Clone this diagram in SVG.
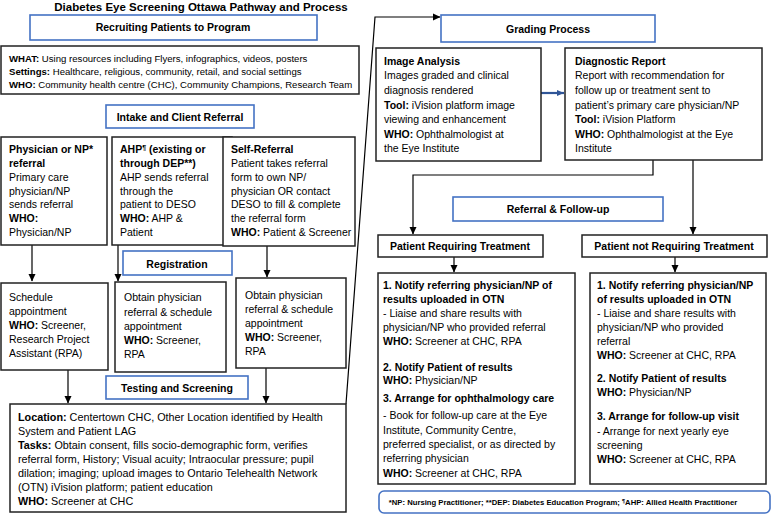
<svg xmlns="http://www.w3.org/2000/svg" width="772" height="515" viewBox="0 0 772 515">
<defs>
<marker id="ah" markerWidth="8" markerHeight="8" refX="7" refY="4" orient="auto" markerUnits="userSpaceOnUse"><path d="M0,0.5 L7.5,4 L0,7.5 z" fill="#000"/></marker>
<marker id="ahb" markerWidth="8" markerHeight="8" refX="7" refY="4" orient="auto" markerUnits="userSpaceOnUse"><path d="M0,1 L7,4 L0,7 z" fill="#2F5597"/></marker>
</defs>
<style>
text{font-family:"Liberation Sans",Arial,sans-serif;font-size:10.5px;fill:#000}
.b{font-weight:bold}
.c{text-anchor:middle}
.s{font-size:9.6px}
.m{font-size:10.8px}
.hdr{fill:#fff;stroke:#4472C4;stroke-width:1.6}
.box{fill:#fff;stroke:#222;stroke-width:1.5}
.ln{fill:none;stroke:#000;stroke-width:1.2}
</style>
<rect width="772" height="515" fill="#fff"/>
<text x="201" y="11" class="b c" style="font-size:11.5px">Diabetes Eye Screening Ottawa Pathway and Process</text>

<g id="connectors">
<path class="ln" d="M32,245 V281" marker-end="url(#ah)"/>
<path class="ln" d="M118,245 V281" marker-end="url(#ah)"/>
<path class="ln" d="M267,246 V277" marker-end="url(#ah)"/>
<path class="ln" d="M68,370 V403" marker-end="url(#ah)"/>
<path class="ln" d="M266,368 V403" marker-end="url(#ah)"/>
<path class="ln" d="M346,404 L375,17 H440" marker-end="url(#ah)"/>
<path d="M541,93 H564" stroke="#2F5597" stroke-width="2.2" fill="none" marker-end="url(#ahb)"/>
<path class="ln" d="M653,160 V175 H413 V234" marker-end="url(#ah)"/>
<path class="ln" d="M693,160 V234" marker-end="url(#ah)"/>
<path class="ln" d="M454,257 V272" marker-end="url(#ah)"/>
<path class="ln" d="M675,257 V272" marker-end="url(#ah)"/>
</g>

<g id="hdr-recruit"><rect class="hdr" x="30" y="15" width="287" height="25"/><text x="173" y="31" class="b c">Recruiting Patients to Program</text></g>
<g id="what"><rect class="box" x="1" y="46" width="358" height="48"/>
<text x="9" y="62" class="s"><tspan class="b">WHAT:</tspan> Using resources including Flyers, infographics, videos, posters</text>
<text x="9" y="75" class="s"><tspan class="b">Settings:</tspan> Healthcare, religious, community, retail, and social settings</text>
<text x="9" y="88" class="s"><tspan class="b">WHO:</tspan> Community health centre (CHC), Community Champions, Research Team</text></g>

<g id="hdr-intake"><rect class="hdr" x="106" y="105" width="148" height="23"/><text x="180" y="121" class="b c">Intake and Client Referral</text></g>

<g id="ref-physician"><rect class="box" x="1" y="137" width="106" height="108"/>
<text x="9" y="153" class="b">Physician or NP*</text>
<text x="9" y="167" class="b">referral</text>
<text x="9" y="181">Primary care</text>
<text x="9" y="195">physician/NP</text>
<text x="9" y="208">sends referral</text>
<text x="9" y="222" class="b">WHO:</text>
<text x="9" y="236">Physician/NP</text></g>

<g id="ref-ahp"><rect class="box" x="112" y="137" width="120" height="108"/>
<text x="120" y="153" class="b">AHP<tspan dy="-3" style="font-size:7px">¶</tspan><tspan dy="3"> (existing or</tspan></text>
<text x="120" y="167" class="b">through DEP**)</text>
<text x="120" y="181">AHP sends referral</text>
<text x="120" y="195">through the</text>
<text x="120" y="208">patient to DESO</text>
<text x="120" y="222"><tspan class="b">WHO:</tspan> AHP &amp;</text>
<text x="120" y="236">Patient</text></g>

<g id="ref-self"><rect class="box" x="223" y="137" width="132" height="109"/>
<text x="231" y="153" class="b">Self-Referral</text>
<text x="231" y="167">Patient takes referral</text>
<text x="231" y="181">form to own NP/</text>
<text x="231" y="195">physician OR contact</text>
<text x="231" y="208">DESO to fill &amp; complete</text>
<text x="231" y="222">the referral form</text>
<text x="231" y="236"><tspan class="b">WHO:</tspan> Patient &amp; Screener</text></g>

<g id="hdr-registration"><rect class="hdr" x="123" y="251" width="109" height="24"/><text x="177" y="268" class="b c">Registration</text></g>

<g id="sched-a"><rect class="box" x="1" y="283" width="107" height="87"/>
<text x="9" y="301">Schedule</text>
<text x="9" y="315">appointment</text>
<text x="9" y="329"><tspan class="b">WHO:</tspan> Screener,</text>
<text x="9" y="343">Research Project</text>
<text x="9" y="357">Assistant (RPA)</text></g>

<g id="sched-b"><rect class="box" x="115" y="282" width="111" height="90"/>
<text x="124" y="301">Obtain physician</text>
<text x="124" y="316">referral &amp; schedule</text>
<text x="124" y="330">appointment</text>
<text x="124" y="344"><tspan class="b">WHO:</tspan> Screener,</text>
<text x="124" y="358">RPA</text></g>

<g id="sched-c"><rect class="box" x="236" y="278" width="110" height="90"/>
<text x="245" y="299">Obtain physician</text>
<text x="245" y="313">referral &amp; schedule</text>
<text x="245" y="327">appointment</text>
<text x="245" y="341"><tspan class="b">WHO:</tspan> Screener,</text>
<text x="245" y="355">RPA</text></g>

<g id="hdr-testing"><rect class="hdr" x="106" y="376" width="142" height="23"/><text x="177" y="392" class="b c">Testing and Screening</text></g>

<g id="testing"><rect class="box" x="10" y="404" width="336" height="108"/>
<text x="18" y="421" class="m"><tspan class="b">Location:</tspan> Centertown CHC, Other Location identified by Health</text>
<text x="18" y="435" class="m">System and Patient LAG</text>
<text x="18" y="449" class="m"><tspan class="b">Tasks:</tspan> Obtain consent, fills socio-demographic form, verifies</text>
<text x="18" y="463" class="m">referral form, History; Visual acuity; Intraocular pressure; pupil</text>
<text x="18" y="477" class="m">dilation; imaging; upload images to Ontario Telehealth Network</text>
<text x="18" y="491" class="m">(OTN) iVision platform; patient education</text>
<text x="18" y="505" class="m"><tspan class="b">WHO:</tspan> Screener at CHC</text></g>

<g id="hdr-grading"><rect class="hdr" x="441" y="15" width="214" height="27"/><text x="548" y="33" class="b c">Grading Process</text></g>

<g id="image-analysis"><rect class="box" x="376" y="48" width="165" height="113"/>
<text x="384" y="65" class="b">Image Analysis</text>
<text x="384" y="79">Images graded and clinical</text>
<text x="384" y="94">diagnosis rendered</text>
<text x="384" y="109"><tspan class="b">Tool:</tspan> iVision platform image</text>
<text x="384" y="123">viewing and enhancement</text>
<text x="384" y="138"><tspan class="b">WHO:</tspan> Ophthalmologist at</text>
<text x="384" y="152">the Eye Institute</text></g>

<g id="diagnostic-report"><rect class="box" x="565" y="48" width="197" height="112"/>
<text x="575" y="65" class="b">Diagnostic Report</text>
<text x="575" y="79">Report with recommendation for</text>
<text x="575" y="94">follow up or treatment sent to</text>
<text x="575" y="109">patient’s primary care physician/NP</text>
<text x="575" y="123"><tspan class="b">Tool:</tspan> iVision Platform</text>
<text x="575" y="138"><tspan class="b">WHO:</tspan> Ophthalmologist at the Eye</text>
<text x="575" y="152">Institute</text></g>

<g id="hdr-referral"><rect class="hdr" x="453" y="197" width="210" height="24"/><text x="558" y="213" class="b c">Referral &amp; Follow-up</text></g>

<g id="prt"><rect class="box" x="378" y="235" width="165" height="22"/><text x="460" y="250" class="b c">Patient Requiring Treatment</text></g>
<g id="pnrt"><rect class="box" x="582" y="235" width="185" height="22"/><text x="674" y="250" class="b c">Patient not Requiring Treatment</text></g>

<g id="treat-steps"><rect class="box" x="378" y="273" width="197" height="211"/>
<text x="383" y="289" class="b">1. Notify referring physician/NP of</text>
<text x="383" y="303" class="b">results uploaded in OTN</text>
<text x="383" y="317">- Liaise and share results with</text>
<text x="383" y="331">physician/NP who provided referral</text>
<text x="383" y="345"><tspan class="b">WHO:</tspan> Screener at CHC, RPA</text>
<text x="383" y="371" class="b">2. Notify Patient of results</text>
<text x="383" y="384"><tspan class="b">WHO:</tspan> Physician/NP</text>
<text x="383" y="402" class="b">3. Arrange for ophthalmology care</text>
<text x="383" y="419">- Book for follow-up care at the Eye</text>
<text x="383" y="434">Institute, Community Centre,</text>
<text x="383" y="448">preferred specialist, or as directed by</text>
<text x="383" y="462">referring physician</text>
<text x="383" y="477"><tspan class="b">WHO:</tspan> Screener at CHC, RPA</text></g>

<g id="notreat-steps"><rect class="box" x="590" y="273" width="176" height="211"/>
<text x="597" y="289" class="b">1. Notify referring physician/NP</text>
<text x="597" y="303" class="b">of results uploaded in OTN</text>
<text x="597" y="317">- Liaise and share results with</text>
<text x="597" y="331">physician/NP who provided</text>
<text x="597" y="345">referral</text>
<text x="597" y="359"><tspan class="b">WHO:</tspan> Screener at CHC, RPA</text>
<text x="597" y="382" class="b">2. Notify Patient of results</text>
<text x="597" y="396"><tspan class="b">WHO:</tspan> Physician/NP</text>
<text x="597" y="420" class="b">3. Arrange for follow-up visit</text>
<text x="597" y="435">- Arrange for next yearly eye</text>
<text x="597" y="449">screening</text>
<text x="597" y="463"><tspan class="b">WHO:</tspan> Screener at CHC, RPA</text></g>

<g id="footnote"><rect class="hdr" x="379" y="491" width="391" height="22" rx="5"/>
<text x="563" y="505" class="b c" style="font-size:7.7px">*NP: Nursing Practitioner; **DEP: Diabetes Education Program; <tspan dy="-2" style="font-size:5.5px">¶</tspan><tspan dy="2">AHP: Allied Health Practitioner</tspan></text></g>
</svg>
